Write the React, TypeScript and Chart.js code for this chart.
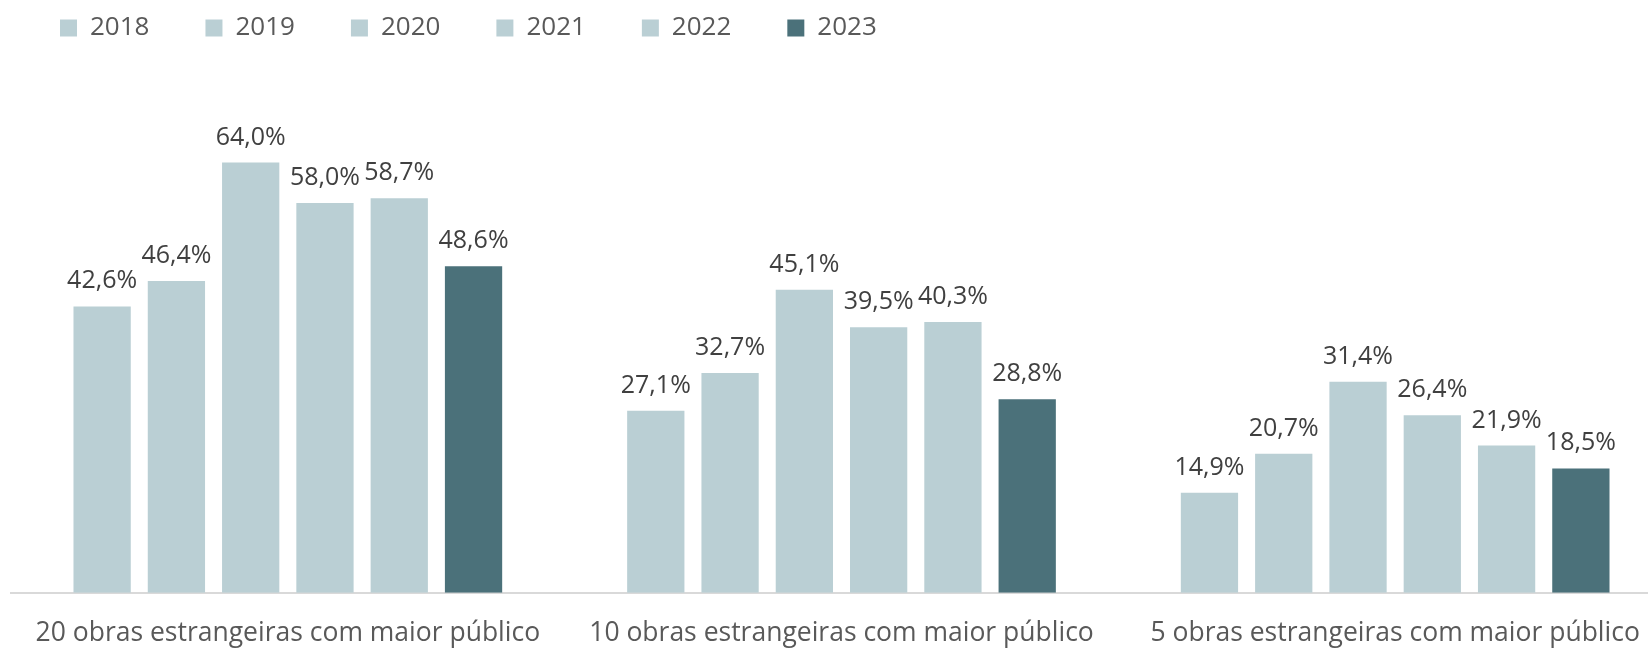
import React, { useEffect, useRef } from "react";
import { Chart, registerables } from "chart.js";

Chart.register(...registerables);

const categories = [
  "20 obras estrangeiras com maior público",
  "10 obras estrangeiras com maior público",
  "5 obras estrangeiras com maior público",
];
const years = ["2018", "2019", "2020", "2021", "2022", "2023"];
const v2018 = [42.6, 27.1, 14.9];
const v2019 = [46.4, 32.7, 20.7];
const v2020 = [64.0, 45.1, 31.4];
const v2021 = [58.0, 39.5, 26.4];
const v2022 = [58.7, 40.3, 21.9];
const v2023 = [48.6, 28.8, 18.5];

const LIGHT = "#BACFD4";
const DARK = "#4B717A";
const FONT = '"Open Sans", "Noto Sans", sans-serif';

const valueLabels = {
  id: "valueLabels",
  afterDatasetsDraw(chart: any) {
    const ctx = chart.ctx;
    ctx.save();
    ctx.font = `25px ${FONT}`;
    ctx.fillStyle = "#404040";
    ctx.textAlign = "center";
    ctx.textBaseline = "alphabetic";
    chart.data.datasets.forEach((ds: any, i: number) => {
      const meta = chart.getDatasetMeta(i);
      meta.data.forEach((el: any, j: number) => {
        const v = ds.data[j] as number;
        ctx.fillText(v.toFixed(1).replace(".", ",") + "%", el.x, el.y - 18);
      });
    });
    ctx.restore();
  },
};

export default function App() {
  const ref = useRef<HTMLCanvasElement | null>(null);
  useEffect(() => {
    if (!ref.current) return;
    const series = [v2018, v2019, v2020, v2021, v2022, v2023];
    const chart = new Chart(ref.current, {
      type: "bar",
      data: {
        labels: categories,
        datasets: years.map((y, i) => ({
          label: y,
          data: series[i],
          backgroundColor: i === 5 ? DARK : LIGHT,
          borderWidth: 0,
          barPercentage: 0.771,
          categoryPercentage: 0.805,
        })),
      },
      options: {
        animation: false,
        responsive: true,
        maintainAspectRatio: false,
        layout: { padding: { left: 4, right: 0, top: 0, bottom: 0 } },
        plugins: {
          tooltip: { enabled: false },
          legend: {
            display: true,
            position: "top",
            align: "start",
            labels: {
              boxWidth: 17,
              boxHeight: 17,
              padding: 56,
              color: "#595959",
              font: { family: FONT, size: 26 },
            },
          },
        },
        scales: {
          x: {
            grid: { display: false, drawTicks: false },
            border: { display: true, color: "#D9D9D9", width: 2 },
            ticks: {
              color: "#595959",
              padding: 26,
              autoSkip: false,
              maxRotation: 0,
              font: { family: FONT, size: 26.5, lineHeight: 1.1 },
            },
          },
          y: {
            display: true,
            min: 0,
            max: 80.6,
            grid: { display: false, drawTicks: false },
            border: { display: false },
            ticks: { display: false },
            afterFit: (scale: any) => {
              scale.width = 7;
            },
          },
        },
      },
      plugins: [valueLabels],
    });
    return () => chart.destroy();
  }, []);
  return (
    <div
      style={{
        position: "fixed",
        left: 0,
        top: 0,
        width: 1648,
        height: 648,
        overflow: "hidden",
        background: "#fff",
      }}
    >
      <div style={{ position: "absolute", left: 0, top: -41, width: 1672, height: 715 }}>
        <canvas ref={ref} />
      </div>
    </div>
  );
}
